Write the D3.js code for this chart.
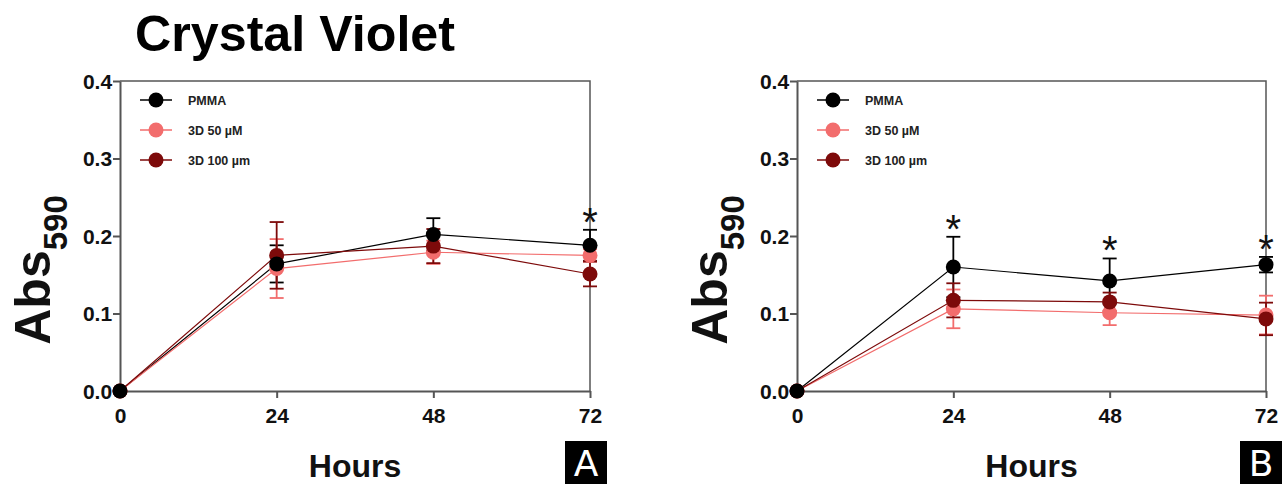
<!DOCTYPE html>
<html><head><meta charset="utf-8">
<script src="https://cdn.jsdelivr.net/npm/d3@7"></script>
<style>body{margin:0;background:#fff;} svg{display:block;}</style>
</head><body>
<svg id="c" width="1283" height="484"></svg>
<script>
const hours = [0, 24, 48, 72];
const yTicks = [0.0, 0.1, 0.2, 0.3, 0.4];
const seriesNames = ["PMMA", "3D 50 \u00b5M", "3D 100 \u00b5m"];
const seriesColors = ["#000000", "#f26d6d", "#7d0a0a"];
// Panel A
const aPMMA = [0, 0.164, 0.202, 0.188];
const aPMMAerr = [0, 0.024, 0.021, 0.020];
const a50 = [0, 0.158, 0.179, 0.175];
const a50err = [0, 0.038, 0.015, 0.008];
const a100 = [0, 0.175, 0.187, 0.151];
const a100err = [0, 0.043, 0.022, 0.016];
const aStars = [72];
// Panel B
const bPMMA = [0, 0.160, 0.142, 0.163];
const bPMMAerr = [0, 0.039, 0.029, 0.010];
const b50 = [0, 0.106, 0.101, 0.098];
const b50err = [0, 0.025, 0.016, 0.025];
const b100 = [0, 0.117, 0.115, 0.093];
const b100err = [0, 0.022, 0.012, 0.021];
const bStars = [24, 48, 72];

const svg = d3.select("#c");
const FF = "'Liberation Sans', Arial, sans-serif";

svg.append("text").attr("x", 135).attr("y", 51)
  .attr("font-family", FF).attr("font-weight", "bold").attr("font-size", 50)
  .attr("textLength", 320).attr("lengthAdjust", "spacingAndGlyphs")
  .text("Crystal Violet");

function panel(cfg) {
  const x = d3.scaleLinear().domain([0, 72]).range([cfg.left, cfg.right]);
  const y = d3.scaleLinear().domain([0, 0.4]).range([391, 81]);
  const g = svg.append("g");
  g.append("path").attr("d", `M${cfg.left},81H${cfg.right}V391`)
    .attr("fill", "none").attr("stroke", "#555").attr("stroke-width", 1.5);
  const xa = g.append("g").attr("transform", `translate(0,391)`)
    .call(d3.axisBottom(x).tickValues(hours).tickSize(7).tickSizeOuter(0).tickFormat(d3.format("d")));
  const ya = g.append("g").attr("transform", `translate(${cfg.left},0)`)
    .call(d3.axisLeft(y).tickValues(yTicks).tickSize(7).tickSizeOuter(0).tickFormat(d3.format(".1f")));
  [xa, ya].forEach(a => {
    a.select(".domain").attr("stroke", "#555").attr("stroke-width", 2);
    a.selectAll(".tick line").attr("stroke", "#555").attr("stroke-width", 2);
    a.selectAll("text").attr("font-family", FF).attr("font-weight", "bold")
      .attr("font-size", 21).attr("fill", "#111");
  });
  xa.selectAll("text").attr("dy", "1.05em");
  ya.selectAll("text").attr("dx", "0.1em").attr("dy", "0.35em");

  const data = cfg.series;
  data.forEach((s, i) => {
    const pts = hours.map((h, j) => [x(h), y(s.v[j])]);
    g.append("path").attr("d", d3.line()(pts)).attr("fill", "none")
      .attr("stroke", seriesColors[i]).attr("stroke-width", 1.2);
  });
  data.forEach((s, i) => {
    hours.forEach((h, j) => {
      if (!s.e[j]) return;
      const cx = x(h), t = y(s.v[j] + s.e[j]), b = y(s.v[j] - s.e[j]);
      const c = seriesColors[i];
      g.append("line").attr("x1", cx).attr("x2", cx).attr("y1", t).attr("y2", b)
        .attr("stroke", c).attr("stroke-width", 1.8);
      [t, b].forEach(yy => g.append("line").attr("x1", cx - 7).attr("x2", cx + 7)
        .attr("y1", yy).attr("y2", yy).attr("stroke", c).attr("stroke-width", 1.8));
    });
  });
  [1, 2, 0].forEach(i => {
    const s = data[i];
    hours.forEach((h, j) => {
      g.append("circle").attr("cx", x(h)).attr("cy", y(s.v[j])).attr("r", 7.5)
        .attr("fill", seriesColors[i]);
    });
  });
  cfg.stars.forEach(h => {
    const j = hours.indexOf(h);
    const top = data[0].v[j] + data[0].e[j];
    g.append("text").attr("x", x(h)).attr("y", y(top) + 6).attr("text-anchor", "middle")
      .attr("font-family", FF).attr("font-size", 40).attr("fill", "#111").text("*");
  });
  seriesNames.forEach((n, i) => {
    const ly = 100 + i * 30;
    g.append("line").attr("x1", cfg.left + 20).attr("x2", cfg.left + 52)
      .attr("y1", ly).attr("y2", ly).attr("stroke", seriesColors[i]).attr("stroke-width", 1.5);
    g.append("circle").attr("cx", cfg.left + 36).attr("cy", ly).attr("r", 7.5).attr("fill", seriesColors[i]);
    g.append("text").attr("x", cfg.left + 68).attr("y", ly + 4.5)
      .attr("font-family", FF).attr("font-weight", "bold").attr("font-size", 12.5)
      .attr("fill", "#222").text(n);
  });
  const yl = g.append("text").attr("transform", `translate(${cfg.left - 70},${270}) rotate(-90)`)
    .attr("text-anchor", "middle").attr("font-family", FF).attr("font-weight", "bold")
    .attr("font-size", 50).attr("fill", "#111");
  yl.append("tspan").text("Abs");
  yl.append("tspan").attr("font-size", 33).attr("dy", 17).text("590");
  g.append("text").attr("x", (cfg.left + cfg.right) / 2).attr("y", 477).attr("text-anchor", "middle")
    .attr("font-family", FF).attr("font-weight", "bold").attr("font-size", 32).attr("fill", "#111")
    .text("Hours");
  g.append("rect").attr("x", cfg.boxX).attr("y", 441).attr("width", 42).attr("height", 43).attr("fill", "#000");
  g.append("text").attr("x", cfg.boxX + 21).attr("y", 476).attr("text-anchor", "middle")
    .attr("font-family", "'DejaVu Sans', sans-serif").attr("font-size", 36).attr("fill", "#fff").text(cfg.letter);
}

panel({left: 120, right: 590, boxX: 565, letter: "A", stars: aStars,
  series: [{v: aPMMA, e: aPMMAerr}, {v: a50, e: a50err}, {v: a100, e: a100err}]});
panel({left: 797, right: 1266, boxX: 1240, letter: "B", stars: bStars,
  series: [{v: bPMMA, e: bPMMAerr}, {v: b50, e: b50err}, {v: b100, e: b100err}]});
</script>
</body></html>
